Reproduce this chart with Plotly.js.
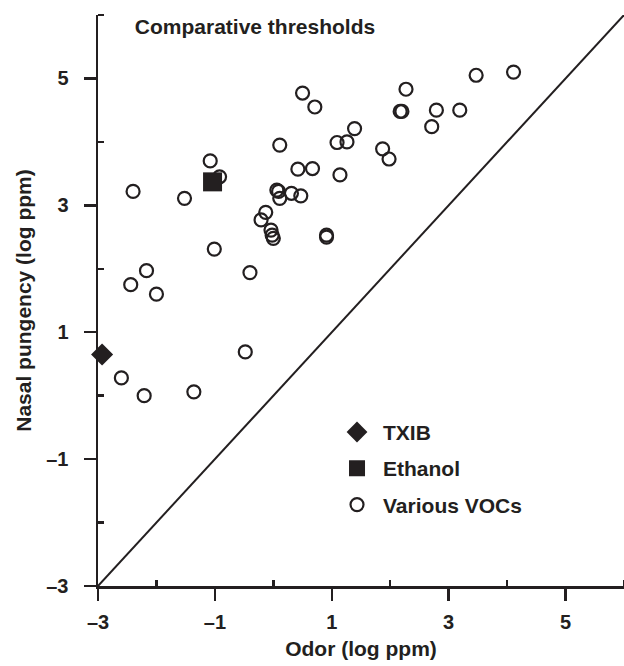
<!DOCTYPE html>
<html>
<head>
<meta charset="utf-8">
<script src="https://cdn.plot.ly/plotly-3.0.1.min.js"></script>
<style>
  html, body { margin: 0; padding: 0; background: #ffffff; }
  #chart { width: 624px; height: 666px; }
</style>
</head>
<body>
<div id="chart"></div>
<script>
// Odor thresholds (x) against nasal pungency thresholds (y), both log ppm
const vocOdor = [
  -2.40, -1.52, -1.08, -0.92, -1.01, -2.17, -2.44, -2.00, -0.40, -0.48,
  -2.60, -2.21, -1.36, 0.50, 0.71, 0.11, 0.42, 0.67, 1.14, 0.06,
  0.09, 0.11, 0.31, 0.47, -0.13, -0.21, -0.04, -0.02, 0.00, 0.91,
  0.91, 1.09, 1.26, 1.39, 1.87, 1.98, 2.27, 2.17, 2.20, 2.79,
  3.19, 2.71, 3.47, 4.11
];
const vocPungency = [
  3.22, 3.11, 3.70, 3.45, 2.31, 1.97, 1.75, 1.60, 1.94, 0.69,
  0.28, 0.00, 0.06, 4.77, 4.55, 3.95, 3.57, 3.58, 3.48, 3.24,
  3.22, 3.11, 3.19, 3.15, 2.89, 2.77, 2.61, 2.53, 2.48, 2.53,
  2.50, 3.99, 4.00, 4.21, 3.89, 3.73, 4.83, 4.48, 4.48, 4.50,
  4.50, 4.24, 5.05, 5.10
];
const txibOdor = [-2.93];
const txibPungency = [0.65];
const ethanolOdor = [-1.04];
const ethanolPungency = [3.37];

// line of equality (odor threshold = pungency threshold)
const equalityLine = [-3, 6];

const majorTicks = [-3, -1, 1, 3, 5];
const majorTickText = ['\u20133', '\u20131', '1', '3', '5'];
const minorTicks = [-2, 0, 2, 4, 6];

const ink = '#231f20';
const fontFamily = '"Liberation Sans", Arial, Helvetica, sans-serif';
const textFont = { family: fontFamily, size: 21, color: ink, weight: 'bold' };

const traces = [
  {
    x: equalityLine, y: equalityLine,
    mode: 'lines', type: 'scatter',
    line: { color: ink, width: 2 },
    showlegend: false, hoverinfo: 'skip', cliponaxis: false
  },
  {
    x: vocOdor, y: vocPungency,
    mode: 'markers', type: 'scatter',
    name: 'Various VOCs', legendgroup: 'voc', legendrank: 3,
    marker: { symbol: 'circle-open', size: 13, color: ink, line: { color: ink, width: 2.2 } },
    cliponaxis: false
  },
  {
    x: ethanolOdor, y: ethanolPungency,
    mode: 'markers', type: 'scatter',
    name: 'Ethanol', legendgroup: 'eth', legendrank: 2,
    marker: { symbol: 'square', size: 19, color: ink, line: { width: 0 } },
    cliponaxis: false
  },
  {
    x: txibOdor, y: txibPungency,
    mode: 'markers', type: 'scatter',
    name: 'TXIB', legendgroup: 'txib', legendrank: 1,
    marker: { symbol: 'diamond', size: 17, color: ink, line: { width: 0 } },
    cliponaxis: false
  }
];

const axisCommon = {
  range: [-3, 6],
  showgrid: false, zeroline: false,
  showline: true, linecolor: ink, linewidth: 2.5,
  tickmode: 'array', tickvals: majorTicks, ticktext: majorTickText,
  ticks: 'outside', ticklen: 12, tickwidth: 2.5, tickcolor: ink,
  tickfont: { family: fontFamily, size: 20, color: ink, weight: 'bold' },
  minor: { tickmode: 'array', tickvals: minorTicks, ticks: 'inside', ticklen: 6, tickwidth: 2.5, tickcolor: ink, showgrid: false },
  fixedrange: true
};

const layout = {
  width: 624, height: 666,
  margin: { l: 98, r: 0, t: 15, b: 80, pad: 0 },
  paper_bgcolor: '#ffffff', plot_bgcolor: '#ffffff',
  font: { family: fontFamily, color: ink, weight: 'bold' },
  title: {
    text: 'Comparative thresholds',
    font: textFont,
    xref: 'paper', x: 0.07, xanchor: 'left',
    yref: 'container', y: 0.96, yanchor: 'middle'
  },
  xaxis: Object.assign({}, axisCommon, {
    ticklabelstandoff: 4,
    title: { text: 'Odor (log ppm)', font: textFont, standoff: 10 }
  }),
  yaxis: Object.assign({}, axisCommon, {
    ticklabelstandoff: 11,
    title: { text: 'Nasal pungency (log ppm)', font: textFont, standoff: 9 }
  }),
  showlegend: true,
  legend: {
    x: 0.443, xanchor: 'left',
    y: 0.305, yanchor: 'top',
    bgcolor: 'rgba(0,0,0,0)', borderwidth: 0,
    itemwidth: 42, tracegroupgap: 6,
    traceorder: 'grouped',
    font: textFont
  }
};

Plotly.newPlot('chart', traces, layout, { displayModeBar: false, staticPlot: true });
</script>
</body>
</html>
